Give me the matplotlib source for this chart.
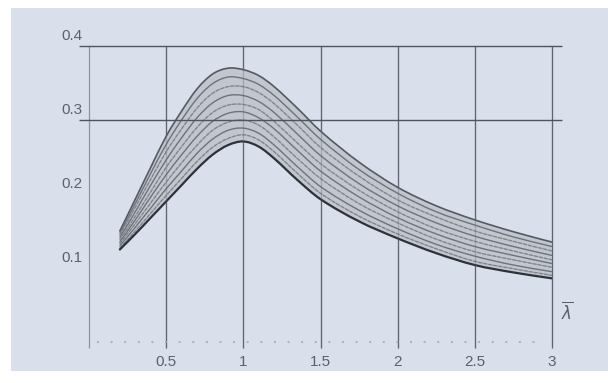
import matplotlib
matplotlib.use("Agg")
import matplotlib.pyplot as plt
from matplotlib.patches import Rectangle, PathPatch
from matplotlib.path import Path
from matplotlib.transforms import offset_copy

# ---- data -------------------------------------------------------------
lam = [0.2, 0.3, 0.4, 0.5, 0.6, 0.7, 0.8, 0.9, 1.0, 1.1, 1.2, 1.35, 1.5,
       1.75, 2.0, 2.25, 2.5, 2.75, 3.0]

curve_01 = [0.150, 0.193, 0.236, 0.278, 0.312, 0.342, 0.362, 0.370, 0.368, 0.360,
            0.345, 0.316, 0.285, 0.243, 0.209, 0.184, 0.165, 0.149, 0.135]
curve_02 = [0.147, 0.187, 0.228, 0.267, 0.300, 0.329, 0.349, 0.358, 0.356, 0.348,
            0.333, 0.304, 0.274, 0.233, 0.201, 0.176, 0.158, 0.142, 0.129]
curve_03 = [0.144, 0.182, 0.220, 0.257, 0.288, 0.316, 0.336, 0.345, 0.345, 0.337,
            0.322, 0.293, 0.263, 0.224, 0.192, 0.169, 0.150, 0.136, 0.123]
curve_04 = [0.141, 0.176, 0.212, 0.246, 0.276, 0.303, 0.323, 0.333, 0.333, 0.325,
            0.310, 0.281, 0.252, 0.214, 0.184, 0.161, 0.143, 0.129, 0.117]
curve_05 = [0.138, 0.170, 0.203, 0.236, 0.264, 0.290, 0.310, 0.320, 0.321, 0.314,
            0.298, 0.269, 0.241, 0.205, 0.176, 0.153, 0.136, 0.123, 0.111]
curve_06 = [0.135, 0.165, 0.196, 0.226, 0.253, 0.278, 0.298, 0.309, 0.311, 0.303,
            0.288, 0.259, 0.231, 0.196, 0.168, 0.146, 0.129, 0.117, 0.106]
curve_07 = [0.133, 0.160, 0.188, 0.216, 0.242, 0.266, 0.286, 0.297, 0.300, 0.293,
            0.277, 0.248, 0.221, 0.187, 0.161, 0.139, 0.122, 0.111, 0.101]
curve_08 = [0.130, 0.155, 0.181, 0.207, 0.231, 0.255, 0.274, 0.286, 0.289, 0.282,
            0.266, 0.237, 0.210, 0.178, 0.153, 0.132, 0.116, 0.104, 0.095]
curve_09 = [0.127, 0.150, 0.174, 0.198, 0.221, 0.244, 0.263, 0.275, 0.280, 0.273,
            0.257, 0.228, 0.201, 0.170, 0.146, 0.126, 0.109, 0.099, 0.090]
curve_10 = [0.125, 0.146, 0.168, 0.190, 0.212, 0.234, 0.253, 0.266, 0.271, 0.264,
            0.248, 0.219, 0.193, 0.163, 0.140, 0.120, 0.104, 0.094, 0.086]

curves = [curve_01, curve_02, curve_03, curve_04, curve_05,
          curve_06, curve_07, curve_08, curve_09, curve_10]

x_ticks = [0.5, 1, 1.5, 2, 2.5, 3]
x_tick_labels = ["0.5", "1", "1.5", "2", "2.5", "3"]
y_ticks = [0.1, 0.2, 0.3, 0.4]
y_tick_labels = ["0.1", "0.2", "0.3", "0.4"]
grid_y = [0.3, 0.4]


def smooth_path_parts(xs, ys):
    """Cubic Hermite (monotone-x) Bezier segments through the given points."""
    n = len(xs)
    m = []
    for i in range(n):
        if i == 0:
            m.append((ys[1] - ys[0]) / (xs[1] - xs[0]))
        elif i == n - 1:
            m.append((ys[-1] - ys[-2]) / (xs[-1] - xs[-2]))
        else:
            m.append((ys[i + 1] - ys[i - 1]) / (xs[i + 1] - xs[i - 1]))
    verts = [(xs[0], ys[0])]
    codes = [Path.MOVETO]
    for i in range(n - 1):
        h = xs[i + 1] - xs[i]
        verts += [(xs[i] + h / 3, ys[i] + m[i] * h / 3),
                  (xs[i + 1] - h / 3, ys[i + 1] - m[i + 1] * h / 3),
                  (xs[i + 1], ys[i + 1])]
        codes += [Path.CURVE4] * 3
    return verts, codes


# ---- figure -----------------------------------------------------------
BG = "#d9dfeb"
GRID = "#606676"
TXT = "#5c616c"

fig = plt.figure(figsize=(6.08, 3.83), dpi=100)
fig.patch.set_facecolor("white")
bg = Rectangle((11 / 608, 1 - 371 / 383), 1 - 11 / 608, (371 - 8) / 383,
               transform=fig.transFigure, facecolor=BG, edgecolor="none",
               zorder=-10)
fig.add_artist(bg)

ax = fig.add_axes([89 / 608, 1 - 342 / 383, 463 / 608, 296 / 383])
ax.set_zorder(5)
ax.set_facecolor("none")
ax.set_xlim(0, 3)
ax.set_ylim(0, 0.4)
for s in ax.spines.values():
    s.set_visible(False)
ax.set_xticks([])
ax.set_yticks([])

# grid
ax.vlines([0], -0.008, 0.4, color="#8d93a2", lw=0.9, clip_on=False, zorder=1)
ax.vlines(x_ticks, -0.008, 0.4, color=GRID, lw=0.9, clip_on=False, zorder=1)
ax.vlines(x_ticks, -0.008, 0.4, color=GRID, lw=0.9, alpha=0.35,
          clip_on=False, zorder=3.5)
ax.hlines(grid_y, -0.065, 3.065, color="#4e5462", lw=1.0, clip_on=False, zorder=4)
ax.hlines([0.0], 0.05, 2.95, color="#a9afbd", lw=1.4, linestyles=(0, (1, 6)),
          clip_on=False, zorder=1)

# band fill between outermost curves
tv, tc = smooth_path_parts(lam, curves[0])
bv, bc = smooth_path_parts(lam[::-1], curves[-1][::-1])
fill_verts = tv + [bv[0]] + bv[1:] + [tv[0]]
fill_codes = tc + [Path.LINETO] + bc[1:] + [Path.CLOSEPOLY]
ax.add_patch(PathPatch(Path(fill_verts, fill_codes), facecolor="#c2c6ce",
                       edgecolor="none", zorder=2))

# curves
n = len(curves)
for i, c in enumerate(curves):
    if i == 0:
        col, lw, ls = "#555960", 1.2, "-"
    elif i == n - 1:
        col, lw, ls = "#2e3138", 1.6, "-"
    elif i % 2 == 1:
        col, lw, ls = "#6e727a", 1.0, "-"
    else:
        col, lw, ls = "#80848c", 1.0, (0, (2.5, 1.2))
    v, cd = smooth_path_parts(lam, c)
    ax.add_patch(PathPatch(Path(v, cd), facecolor="none", edgecolor=col,
                           lw=lw, ls=ls, zorder=3, capstyle="round"))

# tick labels
for xv, lab in zip(x_ticks, x_tick_labels):
    ax.text(xv, -0.027, lab, ha="center", va="center", fontsize=11,
            color=TXT, family="Liberation Sans", clip_on=False)
trans_up = offset_copy(ax.transData, fig=fig, x=0, y=10, units="dots")
for yv, lab in zip(y_ticks, y_tick_labels):
    ax.text(-0.04, yv, lab, ha="right", va="center", fontsize=11,
            color=TXT, family="Liberation Sans", transform=trans_up, clip_on=False)

ax.text(3.1, 0.04, r"$\overline{\lambda}$", ha="center", va="center",
        fontsize=12, color=TXT, clip_on=False)

fig.savefig("out.png", dpi=100, facecolor=fig.get_facecolor())
